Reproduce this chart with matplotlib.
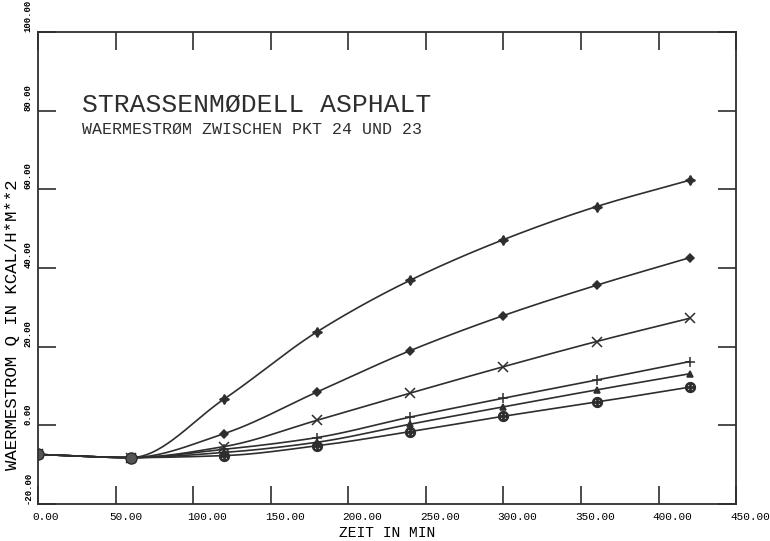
import numpy as np
import matplotlib
matplotlib.use("Agg")
import matplotlib.pyplot as plt
import matplotlib.transforms as mtransforms

# time points in minutes
zeit = [0, 60, 120, 180, 240, 300, 360, 420]

# heat flux curves (top to bottom)
q_1 = [-7.4, -8.2, 6.7, 23.8, 36.9, 47.2, 55.6, 62.3]
q_2 = [-7.4, -8.2, -2.1, 8.5, 19.0, 27.9, 35.6, 42.6]
q_3 = [-7.4, -8.2, -5.4, 1.3, 8.2, 14.9, 21.3, 27.2]
q_4 = [-7.4, -8.2, -6.1, -3.1, 2.1, 6.9, 11.5, 16.2]
q_5 = [-7.4, -8.2, -6.9, -4.3, 0.3, 4.7, 9.0, 13.1]
q_6 = [-7.4, -8.2, -7.7, -5.2, -1.6, 2.3, 5.9, 9.7]

series = [q_1, q_2, q_3, q_4, q_5, q_6]
markers = [(4, 1, 0), "D", "x", "+", "^", r"$\oplus$"]
sizes = [7, 4, 7, 7, 4.5, 7]

x_ticks = [0, 50, 100, 150, 200, 250, 300, 350, 400, 450]
y_ticks = [-20, 0, 20, 40, 60, 80, 100]

INK = "#2e2e2e"
FONT = "Liberation Mono"


def pchip(x, y, xs):
    """Monotone cubic curve through the points (only for drawing the line)."""
    x = np.asarray(x, float)
    y = np.asarray(y, float)
    h = np.diff(x)
    delta = np.diff(y) / h
    d = np.zeros_like(y)
    for k in range(1, len(x) - 1):
        if delta[k - 1] * delta[k] > 0:
            w1 = 2 * h[k] + h[k - 1]
            w2 = h[k] + 2 * h[k - 1]
            d[k] = (w1 + w2) / (w1 / delta[k - 1] + w2 / delta[k])
    d[0] = delta[0]
    d[-1] = delta[-1]
    idx = np.clip(np.searchsorted(x, xs) - 1, 0, len(x) - 2)
    t = (xs - x[idx]) / h[idx]
    h00 = 2 * t**3 - 3 * t**2 + 1
    h10 = t**3 - 2 * t**2 + t
    h01 = -2 * t**3 + 3 * t**2
    h11 = t**3 - t**2
    return (h00 * y[idx] + h10 * h[idx] * d[idx]
            + h01 * y[idx + 1] + h11 * h[idx] * d[idx + 1])


fig = plt.figure(figsize=(7.7, 5.41), dpi=100)
ax = fig.add_axes([0.0494, 0.0684, 0.9066, 0.8726])

xs = np.linspace(zeit[0], zeit[-1], 400)
for vals, m, s in zip(series, markers, sizes):
    ax.plot(xs, pchip(zeit, vals, xs), color=INK, lw=1.2)
    ax.plot(zeit, vals, linestyle="none", marker=m, ms=s, color=INK,
            mec=INK, mew=1.1)

# big blobs where all curves start together
ax.plot(zeit[:2], q_1[:2], linestyle="none", marker="o", ms=8,
        color="#555555", mec=INK)

ax.set_xlim(0, 450)
ax.set_ylim(-20, 100)
ax.set_xticks(x_ticks)
ax.set_yticks(y_ticks)
ax.set_xticklabels([f"{v:.2f}" for v in x_ticks], fontfamily=FONT, fontsize=8)
ax.set_yticklabels([f"{v:.2f}" for v in y_ticks], fontfamily=FONT,
                   fontsize=6.5, fontweight="bold")

ax.tick_params(axis="both", direction="in", length=13, width=1.2,
               color=INK, top=True, right=True)
ax.tick_params(axis="x", pad=6)
ax.tick_params(axis="y", pad=4)

# x labels start a little left of the tick
shift = mtransforms.ScaledTranslation(-6 / 100, 0, fig.dpi_scale_trans)
for lbl in ax.get_xticklabels():
    lbl.set_horizontalalignment("left")
    lbl.set_transform(lbl.get_transform() + shift)

# y labels rotated, starting at the tick
for lbl in ax.get_yticklabels():
    lbl.set_rotation(90)
    lbl.set_rotation_mode("anchor")
    lbl.set_horizontalalignment("left")
    lbl.set_verticalalignment("bottom")

for sp in ax.spines.values():
    sp.set_color(INK)
    sp.set_linewidth(1.3)

ax.set_xlabel("ZEIT IN MIN", fontfamily=FONT, fontsize=10.5)
ax.xaxis.set_label_coords(0.5, -0.046)
ax.set_ylabel("WAERMESTROM Q IN KCAL/H*M**2", fontfamily=FONT, fontsize=12.5)
ax.yaxis.set_label_coords(-0.026, 0.38)

ax.text(0.063, 0.83, "STRASSENMØDELL ASPHALT", transform=ax.transAxes,
        fontfamily=FONT, fontsize=19, color=INK, va="baseline")
ax.text(0.063, 0.784, "WAERMESTRØM ZWISCHEN PKT 24 UND 23",
        transform=ax.transAxes, fontfamily=FONT, fontsize=12, color=INK,
        va="baseline")

fig.savefig("out.png", dpi=100)
